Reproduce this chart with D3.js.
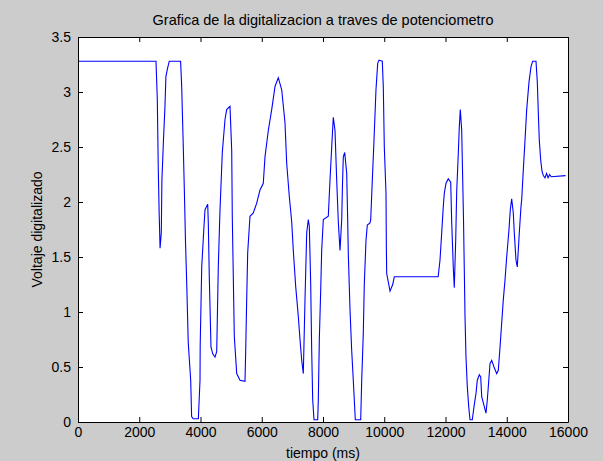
<!DOCTYPE html>
<html>
<head>
<meta charset="utf-8">
<script src="https://cdn.jsdelivr.net/npm/d3@7"></script>
<style>
  body { margin: 0; background: #cccccc; }
  text { font-family: Arial, "Liberation Sans", sans-serif; fill: #000; }
  .tick text { font-size: 14px; }
</style>
</head>
<body>
<div id="wrapper"></div>
<script>
// Samples: time (ms) and digitised voltage
const tiempo = [
  0, 2547, 2590, 2620, 2650, 2680, 2720, 2740, 2790, 2840, 2870, 2920, 2980,
  3350, 3386, 3438, 3480, 3510, 3550, 3600, 3680, 3710, 3760, 3930,
  3984, 3990, 4040, 4114, 4147, 4235, 4255, 4287, 4343, 4400, 4473, 4529,
  4581, 4637, 4712, 4800, 4855, 4963, 5019, 5038, 5071, 5104, 5182, 5290, 5453,
  5476, 5508, 5541, 5616, 5724, 5835, 5943, 6050, 6106, 6214, 6325, 6433, 6540,
  6652, 6759, 6815, 6900, 6978, 7030, 7109, 7194, 7249, 7305, 7357,
  7412, 7468, 7520, 7553, 7598, 7631, 7664, 7706, 7827,
  7847, 7880, 7925, 7957, 8010, 8173, 8229, 8284, 8336, 8392, 8447, 8500, 8555,
  8611, 8637, 8663, 8709, 8774, 8806, 8826, 8882, 8937, 8989, 9055, 9231,
  9264, 9316, 9349, 9404, 9447, 9535, 9558, 9610, 9665, 9730, 9786, 9829, 9936,
  9969, 10002, 10057, 10070, 10080, 10188, 10276, 10328, 11760,
  11820, 11876, 11928, 11961, 12016, 12091, 12170, 12202, 12254, 12287,
  12333, 12366, 12418, 12450, 12483, 12529, 12562, 12588, 12614, 12637, 12669,
  12712, 12758, 12800, 12875, 12931, 12996, 13038, 13104, 13150, 13182, 13322,
  13365, 13411, 13453, 13509, 13584, 13672, 13724, 13780, 13835, 13887, 13943,
  13998, 14073, 14116, 14161, 14214, 14246, 14302, 14344, 14410, 14465, 14488,
  14540, 14596, 14651, 14726, 14792, 14847, 14955, 14998, 15031, 15063, 15109,
  15151, 15194, 15250, 15300, 15350, 15400, 15450, 15920
]
const voltaje = [
  3.28, 3.28, 2.93, 2.32, 1.9, 1.58, 1.72, 2.2, 2.56, 2.87, 3.14, 3.21, 3.28,
  3.28, 3.05, 2.5, 2.02, 1.64, 1.26, 0.72, 0.38, 0.05, 0.03, 0.03,
  0.38, 0.7, 1.41, 1.78, 1.93, 1.98, 1.81, 1.32, 0.68, 0.62, 0.59, 0.64,
  1.41, 1.93, 2.45, 2.75, 2.84, 2.87, 2.47, 1.87, 1.32, 0.78, 0.44, 0.38, 0.37,
  0.65, 1.11, 1.54, 1.87, 1.9, 1.99, 2.11, 2.17, 2.41, 2.65, 2.84, 3.05, 3.13,
  3.02, 2.72, 2.35, 2.05, 1.82, 1.56, 1.23, 0.96, 0.75, 0.56, 0.44,
  1.11, 1.72, 1.84, 1.78, 1.26, 0.65, 0.2, 0.02, 0.02,
  0.2, 0.75, 1.2, 1.56, 1.84, 1.87, 2.2, 2.5, 2.77, 2.65, 2.2, 1.82, 1.56,
  1.84, 2.17, 2.41, 2.45, 2.26, 1.84, 1.53, 1.02, 0.65, 0.38, 0.02, 0.02,
  0.38, 0.81, 1.26, 1.65, 1.79, 1.81, 1.84, 2.2, 2.56, 3.02, 3.26, 3.29, 3.28,
  3.05, 2.5, 2.08, 1.56, 1.35, 1.19, 1.25, 1.32, 1.32,
  1.47, 1.72, 1.96, 2.08, 2.17, 2.21, 2.18, 1.82, 1.41, 1.22,
  1.65, 2.1, 2.44, 2.68, 2.84, 2.65, 2.2, 1.84, 1.38, 0.96, 0.59,
  0.32, 0.14, 0.02, 0.02, 0.14, 0.26, 0.38, 0.43, 0.41, 0.23, 0.08,
  0.2, 0.37, 0.53, 0.56, 0.5, 0.44, 0.47, 0.68, 0.9, 1.11, 1.29,
  1.5, 1.75, 1.93, 2.03, 1.9, 1.72, 1.47, 1.41, 1.72, 1.96, 2.02,
  2.29, 2.56, 2.84, 3.09, 3.23, 3.28, 3.28, 3.09, 2.81, 2.56, 2.38,
  2.28, 2.24, 2.22, 2.26, 2.22, 2.25, 2.23, 2.24
]
const xTicks = [0, 2000, 4000, 6000, 8000, 10000, 12000, 14000, 16000]
const yTicks = [0, 0.5, 1, 1.5, 2, 2.5, 3, 3.5]

async function drawChart() {
  const dataset = tiempo.map((t, i) => ({ t, v: voltaje[i] }))
  const xAccessor = d => d.t
  const yAccessor = d => d.v

  // Chart dimensions (matlab-ish figure)
  let dimensions = {
    width: 603,
    height: 461,
    margin: { top: 37, right: 35, bottom: 39, left: 78 },
  }
  dimensions.boundedWidth =
    dimensions.width - dimensions.margin.left - dimensions.margin.right
  dimensions.boundedHeight =
    dimensions.height - dimensions.margin.top - dimensions.margin.bottom

  // Draw canvas
  const wrapper = d3.select('#wrapper')
    .append('svg')
    .attr('width', dimensions.width)
    .attr('height', dimensions.height)
    .style('display', 'block')

  wrapper.append('rect')
    .attr('width', dimensions.width)
    .attr('height', dimensions.height)
    .attr('fill', '#cccccc')

  const bounds = wrapper.append('g')
    .attr('transform', `translate(${dimensions.margin.left},${dimensions.margin.top})`)

  // Scales
  const xScale = d3.scaleLinear()
    .domain([0, 16000])
    .range([0, dimensions.boundedWidth])
  const yScale = d3.scaleLinear()
    .domain([0, 3.5])
    .range([dimensions.boundedHeight, 0])

  // White plot area
  bounds.append('rect')
    .attr('width', dimensions.boundedWidth)
    .attr('height', dimensions.boundedHeight)
    .attr('fill', '#ffffff')

  // Draw data
  const lineGenerator = d3.line()
    .x(d => xScale(xAccessor(d)))
    .y(d => yScale(yAccessor(d)))

  bounds.append('path')
    .attr('d', lineGenerator(dataset))
    .attr('fill', 'none')
    .attr('stroke', '#0000ff')
    .attr('stroke-width', 1.1)

  // Axes - ticks point inward like matlab, mirrored on top/right
  const tickLen = 5
  const xAxis = bounds.append('g')
    .attr('transform', `translate(0,${dimensions.boundedHeight})`)
    .call(d3.axisBottom(xScale).tickValues(xTicks).tickSizeInner(-tickLen).tickSizeOuter(0).tickPadding(9)
      .tickFormat(d3.format('d')))
  const yAxis = bounds.append('g')
    .call(d3.axisLeft(yScale).tickValues(yTicks).tickSizeInner(-tickLen).tickSizeOuter(0).tickPadding(9)
      .tickFormat(d3.format('')))
  const xAxisTop = bounds.append('g')
    .call(d3.axisTop(xScale).tickValues(xTicks).tickSizeInner(-tickLen).tickSizeOuter(0).tickFormat(''))
  const yAxisRight = bounds.append('g')
    .attr('transform', `translate(${dimensions.boundedWidth},0)`)
    .call(d3.axisRight(yScale).tickValues(yTicks).tickSizeInner(-tickLen).tickSizeOuter(0).tickFormat(''))

  ;[xAxis, yAxis, xAxisTop, yAxisRight].forEach(a => {
    a.select('.domain').attr('stroke', '#000').attr('stroke-width', 1)
    a.selectAll('.tick line').attr('stroke', '#000')
  })
  xAxis.selectAll('.tick text').attr('dy', '0.45em')
  yAxis.selectAll('.tick text').attr('dx', '2px')

  // Labels
  wrapper.append('text')
    .attr('x', dimensions.margin.left + dimensions.boundedWidth / 2)
    .attr('y', 25)
    .attr('text-anchor', 'middle')
    .style('font-size', '14.5px')
    .text('Grafica de la digitalizacion a traves de potenciometro')

  wrapper.append('text')
    .attr('x', dimensions.margin.left + dimensions.boundedWidth / 2)
    .attr('y', 458)
    .attr('text-anchor', 'middle')
    .style('font-size', '14px')
    .text('tiempo (ms)')

  wrapper.append('text')
    .attr('transform', `translate(42,${dimensions.margin.top + dimensions.boundedHeight / 2}) rotate(-90)`)
    .attr('text-anchor', 'middle')
    .style('font-size', '14px')
    .text('Voltaje digitalizado')
}
drawChart()
</script>
</body>
</html>
